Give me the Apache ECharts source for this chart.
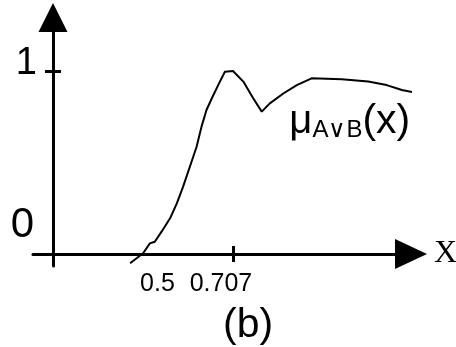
<!DOCTYPE html>
<html>
<head>
<meta charset="utf-8">
<script src="https://cdn.jsdelivr.net/npm/echarts@6/dist/echarts.min.js"></script>
<style>
  html, body { margin: 0; padding: 0; background: #fff; }
  #chart { width: 456px; height: 347px; }
</style>
</head>
<body>
<div id="chart"></div>
<script>
// Membership function of the union A v B, sampled along x
const xValues = [0.478, 0.507, 0.522, 0.533, 0.548, 0.567, 0.582, 0.596, 0.611, 0.626,
                 0.637, 0.648, 0.660, 0.674, 0.689, 0.707, 0.730, 0.752, 0.771, 0.789,
                 0.819, 0.849, 0.882, 0.949, 1.008, 1.049, 1.083, 1.119];
const muValues = [-0.051, 0.004, 0.058, 0.067, 0.122, 0.195, 0.277, 0.368, 0.477, 0.586,
                  0.696, 0.787, 0.851, 0.923, 0.996, 1.000, 0.942, 0.851, 0.778, 0.823,
                  0.877, 0.923, 0.960, 0.955, 0.942, 0.923, 0.896, 0.878];

// Marked positions on the axes
const xTicks = [0.5, 0.707];
const xTickLabels = ['0.5', '0.707'];
const yTicks = [0, 1];
const yTickLabels = ['0', '1'];

// Axis extents and where the vertical axis crosses the horizontal one
const X_MIN = 0.2619, X_MAX = 1.1032;
const Y_MIN = -0.0656, Y_MAX = 1.2923;
const Y_AXIS_AT = 0.3064;
const TICK_DX = 0.0178, TICK_DY = 0.0437;

const curve = xValues.map((x, i) => [x, muValues[i]]);

const chart = echarts.init(document.getElementById('chart'), null, { renderer: 'canvas' });

const labelFont = 'Liberation Sans';

chart.setOption({
  animation: false,
  backgroundColor: '#ffffff',
  title: {
    text: '(b)',
    left: 218,
    top: 300,
    textStyle: { fontFamily: labelFont, fontSize: 41, fontWeight: 'normal', color: '#000' }
  },
  grid: {
    left: 33, right: 45, top: 17.5, bottom: 81,
    containLabel: false,
    outerBoundsMode: 'none'
  },
  xAxis: {
    type: 'value',
    min: X_MIN, max: X_MAX,
    name: 'X',
    nameLocation: 'end',
    nameGap: 23,
    nameTextStyle: { fontFamily: 'Liberation Serif', fontSize: 32, color: '#000', verticalAlign: 'middle' },
    axisLine: {
      show: true, onZero: true,
      symbol: ['none', 'triangle'],
      symbolSize: [30, 32],
      lineStyle: { color: '#000', width: 3 }
    },
    axisTick: { show: false },
    splitLine: { show: false },
    axisLabel: {
      customValues: xTicks,
      margin: 6,
      color: '#000',
      fontFamily: labelFont,
      fontSize: 25,
      formatter: v => {
        const i = xTicks.indexOf(v);
        return i === 0 ? '{a|' + xTickLabels[0] + '}' : '{b|' + xTickLabels[1] + '}';
      },
      rich: {
        a: { fontFamily: labelFont, fontSize: 25, color: '#000', padding: [0, 0, 0, 35] },
        b: { fontFamily: labelFont, fontSize: 25, color: '#000', padding: [0, 24, 0, 0] }
      }
    }
  },
  yAxis: {
    type: 'value',
    min: Y_MIN, max: Y_MAX,
    position: 'left',
    offset: -20,
    axisLine: {
      show: true, onZero: false,
      symbol: ['none', 'triangle'],
      symbolSize: [29, 29],
      lineStyle: { color: '#000', width: 3 }
    },
    axisTick: { show: false },
    splitLine: { show: false },
    axisLabel: {
      customValues: yTicks,
      margin: 16,
      color: '#000',
      fontFamily: labelFont,
      fontSize: 40,
      formatter: v => (v === 0 ? '{z|' + yTickLabels[0] + '}' : '{o|' + yTickLabels[1] + '}'),
      rich: {
        z: { fontFamily: labelFont, fontSize: 42, color: '#000', padding: [0, 3, 58, 0] },
        o: { fontFamily: labelFont, fontSize: 38, color: '#000', padding: [0, 0, 14, 0] }
      }
    }
  },
  series: [{
    type: 'line',
    data: curve,
    clip: false,
    showSymbol: false,
    symbol: 'none',
    lineStyle: { color: '#000', width: 2 },
    markLine: {
      silent: true,
      symbol: 'none',
      label: { show: false },
      lineStyle: { color: '#000', width: 3, type: 'solid' },
      data: [
        [{ coord: [Y_AXIS_AT - TICK_DX, yTicks[1]] }, { coord: [Y_AXIS_AT + TICK_DX, yTicks[1]] }],
        [{ coord: [xTicks[1], TICK_DY] }, { coord: [xTicks[1], -TICK_DY] }]
      ]
    },
    markPoint: {
      silent: true,
      symbol: 'circle',
      symbolSize: 0,
      label: {
        show: true,
        position: 'inside',
        formatter: '{m|μ}{s|A∨B}{p|(x)}',
        rich: {
          m: { fontFamily: labelFont, fontSize: 40, color: '#000' },
          s: { fontFamily: labelFont, fontSize: 24, color: '#000', verticalAlign: 'bottom', lineHeight: 40 },
          p: { fontFamily: labelFont, fontSize: 41, color: '#000' }
        }
      },
      data: [{ coord: [0.9670, 0.721] }]
    }
  }]
});
</script>
</body>
</html>
